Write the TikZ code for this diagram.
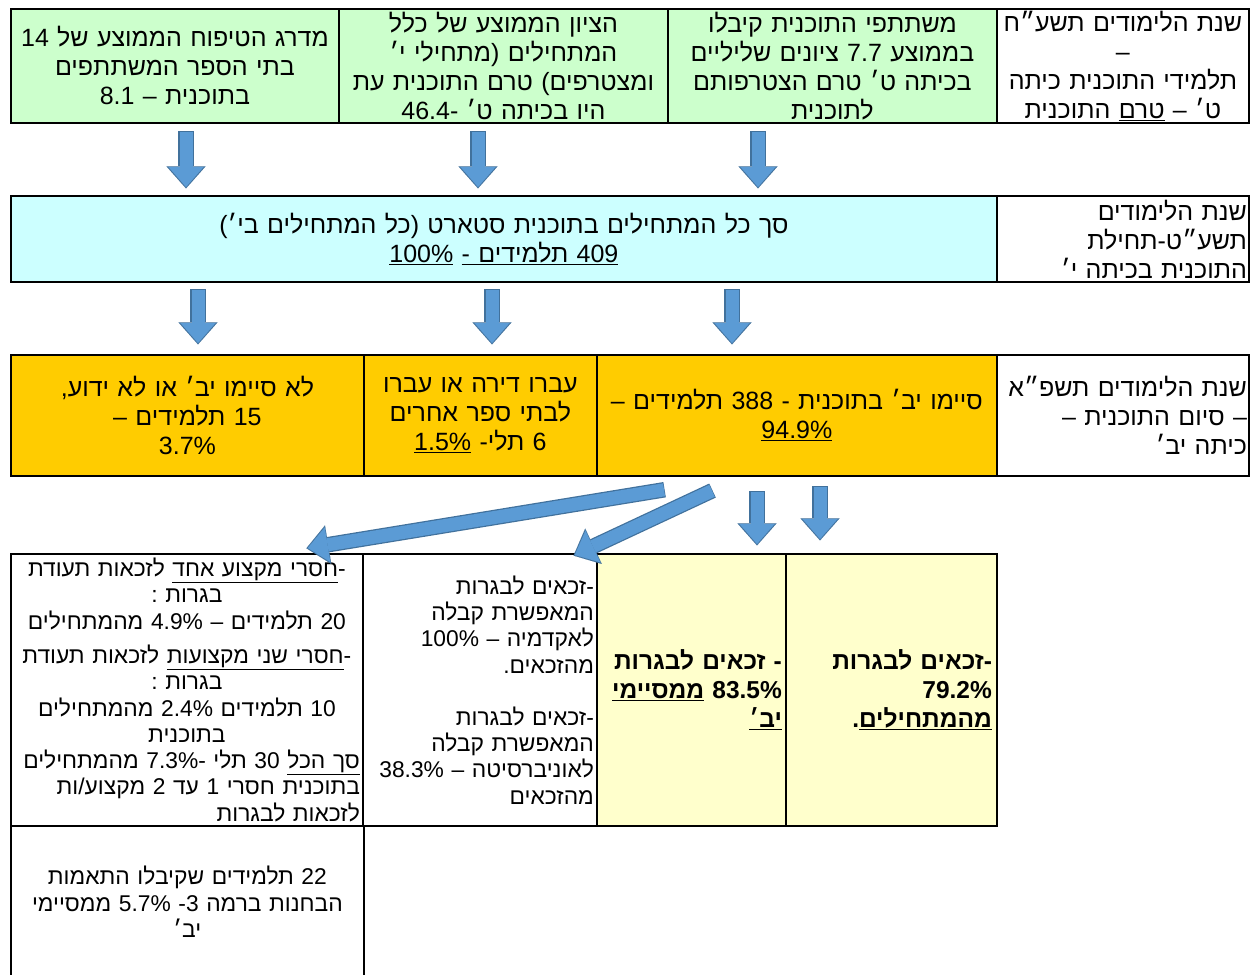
\documentclass[tikz,border=0pt]{standalone}
\usepackage{fontspec}
\setmainfont{Liberation Sans}
\newfontfamily\hebfont[Script=Hebrew]{Liberation Sans}
\TeXXeTstate=1
\usetikzlibrary{arrows.meta,calc,positioning}

\definecolor{topgreen}{HTML}{CCFFCC}
\definecolor{startcyan}{HTML}{CCFFFF}
\definecolor{endorange}{HTML}{FFCC00}
\definecolor{bagrutyellow}{HTML}{FFFFCC}
\definecolor{arrowfill}{HTML}{5B9BD5}
\definecolor{arrowedge}{HTML}{41719C}

\newcommand{\heb}[1]{\beginR#1\endR}
\newcommand{\ulheb}[1]{\underline{\heb{#1}}}

\tikzset{
  cell/.style={draw=black, line width=1.8pt, anchor=north west, inner sep=0pt, align=center,
    font=\hebfont\fontsize{25}{29}\selectfont},
  small/.style={font=\hebfont\fontsize{22.8}{26.3}\selectfont},
  heavy/.style={font=\hebfont\bfseries\fontsize{24.5}{29}\selectfont},
  flow/.style={draw=arrowfill, line width=13pt,
    -{Triangle[length=20pt,width=35pt,line width=0.01pt]},
    preaction={draw=arrowedge, line width=15.5pt,
      -{Triangle[length=22pt,width=39pt,line width=0.01pt]},
      shorten >=-1.4pt, shorten <=-0.6pt}}
}

\begin{document}
\begin{tikzpicture}[x=1pt,y=-1pt]
  \useasboundingbox (0,0) rectangle (1252,974);

  %Row 1 - before the programme
  \node[cell, fill=topgreen, minimum width=328pt, minimum height=114pt, text width=318pt] (t1) at (10,8)
    {\heb{מדרג הטיפוח הממוצע של 14}\\ \heb{בתי הספר המשתתפים}\\ \heb{בתוכנית – 8.1}};
  \node[cell, fill=topgreen, minimum width=329pt, minimum height=114pt, text width=319pt] (t2) at (338,8)
    {\heb{הציון הממוצע של כלל}\\ \heb{המתחילים (מתחילי י׳}\\ \heb{ומצטרפים) טרם התוכנית עת}\\ \heb{היו בכיתה ט׳ -46.4}};
  \node[cell, fill=topgreen, minimum width=329pt, minimum height=114pt, text width=319pt] (t3) at (667,8)
    {\heb{משתתפי התוכנית קיבלו}\\ \heb{בממוצע 7.7 ציונים שליליים}\\ \heb{בכיתה ט׳ טרם הצטרפותם}\\ \heb{לתוכנית}};
  \node[cell, minimum width=252pt, minimum height=114pt, text width=248pt] (y1) at (996,8)
    {\heb{שנת הלימודים תשע״ח}\\ –\\ \heb{תלמידי התוכנית כיתה}\\ \heb{ט׳ – \underline{טרם} התוכנית}};

  %Row 2 - start of the programme
  \node[cell, fill=startcyan, minimum width=986pt, minimum height=86pt, text width=970pt] (s) at (10,195)
    {\heb{סך כל המתחילים בתוכנית סטארט (כל המתחילים בי׳)}\\ \heb{\ulheb{409 תלמידים -} \underline{100\%}}};
  \node[cell, align=right, minimum width=252pt, minimum height=86pt, text width=248pt] (y2) at (996,195)
    {\heb{שנת הלימודים}\\ \heb{תשע״ט-תחילת}\\ \heb{התוכנית בכיתה י׳}};

  %Row 3 - end of the programme
  \node[cell, fill=endorange, minimum width=353pt, minimum height=121pt, text width=343pt] (e1) at (10,354)
    {\heb{לא סיימו יב׳ או לא ידוע,}\\ \heb{15 תלמידים –}\\ 3.7\%};
  \node[cell, fill=endorange, minimum width=233pt, minimum height=121pt, text width=225pt] (e2) at (363,354)
    {\heb{עברו דירה או עברו}\\ \heb{לבתי ספר אחרים}\\ \heb{6 תלי- \underline{1.5\%}}};
  \node[cell, fill=endorange, minimum width=400pt, minimum height=121pt, text width=392pt] (e3) at (596,354)
    {\heb{סיימו יב׳ בתוכנית - 388 תלמידים –}\\ \underline{94.9\%}};
  \node[cell, align=right, minimum width=252pt, minimum height=121pt, text width=248pt] (y3) at (996,354)
    {\heb{שנת הלימודים תשפ״א}\\ \heb{– סיום התוכנית –}\\ \heb{כיתה יב׳}};

  %Row 4 - matriculation
  \node[cell, small, minimum width=352pt, minimum height=272pt, text width=346pt] (b1) at (10,553)
    {\heb{-\ulheb{חסרי מקצוע אחד} לזכאות תעודת}\\ \heb{בגרות :}\\ \heb{20 תלמידים – 4.9\% מהמתחילים}\\[8pt]
     \heb{-\ulheb{חסרי שני מקצועות} לזכאות תעודת}\\ \heb{בגרות :}\\ \heb{10 תלמידים 2.4\% מהמתחילים}\\ \heb{בתוכנית}\\
     \makebox[\hsize][r]{\heb{\ulheb{סך הכל} 30 תלי -7.3\% מהמתחילים}}\\
     \makebox[\hsize][r]{\heb{בתוכנית חסרי 1 עד 2 מקצוע/ות}}\\
     \makebox[\hsize][r]{\heb{לזכאות לבגרות}}};
  \node[cell, small, align=right, minimum width=234pt, minimum height=272pt, text width=228pt] (b2) at (362,553)
    {\heb{-זכאים לבגרות}\\ \heb{המאפשרת קבלה}\\ \heb{לאקדמיה – 100\%}\\ \heb{מהזכאים.}\\[26pt]
     \heb{-זכאים לבגרות}\\ \heb{המאפשרת קבלה}\\ \heb{לאוניברסיטה – 38.3\%}\\ \heb{מהזכאים}};
  \node[cell, heavy, fill=bagrutyellow, align=right, minimum width=189pt, minimum height=272pt, text width=181pt] (b3) at (596,553)
    {\heb{- זכאים לבגרות}\\ \heb{83.5\% \underline{ממסיימי}}\\ \heb{\underline{יב׳}}};
  \node[cell, heavy, fill=bagrutyellow, align=right, minimum width=211pt, minimum height=272pt, text width=201pt] (b4) at (785,553)
    {\heb{-זכאים לבגרות}\\ 79.2\%\\ \heb{\underline{מהמתחילים}.}};

  %Row 5
  \node[cell, small, minimum width=353pt, minimum height=152pt, text width=343pt] (f1) at (10,825)
    {\heb{22 תלמידים שקיבלו התאמות}\\ \heb{הבחנות ברמה 3- 5.7\% ממסיימי}\\ \heb{יב׳}};

  %Arrows
  \draw[flow] ($(t1.south west)+(176,8)$) -- ($(t1.south west |- s.north)+(176,-8)$);
  \draw[flow] ($(t2.south west)+(140,8)$) -- ($(t2.south west |- s.north)+(140,-8)$);
  \draw[flow] ($(t3.south west)+(91,8)$) -- ($(t3.south west |- s.north)+(91,-8)$);

  \draw[flow] ($(s.south west)+(188,7)$) -- ($(s.south west |- e1.north)+(188,-11)$);
  \draw[flow] ($(s.south west)+(482,7)$) -- ($(s.south west |- e1.north)+(482,-11)$);
  \draw[flow] ($(s.south west)+(722,7)$) -- ($(s.south west |- e1.north)+(722,-11)$);

  \draw[flow] ($(e3.south west)+(68,13)$) -- ($(b1.north east)+(-56,-5)$);
  \draw[flow] ($(e3.south west)+(116,14)$) -- ($(b2.north east)+(-23,2)$);
  \draw[flow] ($(e3.south west)+(161,15)$) -- ($(b3.north west)+(161,-9)$);
  \draw[flow] ($(e3.south west)+(224,10)$) -- ($(b4.north west)+(35,-14)$);
\end{tikzpicture}
\end{document}
